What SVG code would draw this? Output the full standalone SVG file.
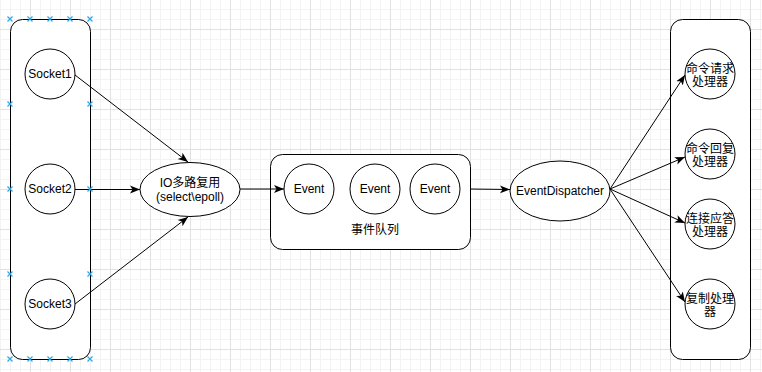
<svg xmlns="http://www.w3.org/2000/svg" width="762" height="372" viewBox="0 0 762 372">
<style>
.shape{fill:#ffffff;stroke:#000000;stroke-width:1}
.edge{fill:none;stroke:#000000;stroke-width:1}
.t{font-family:"Liberation Sans",Arial,"Noto Sans CJK SC",sans-serif;font-size:12px;fill:#000000;text-anchor:middle}
.h{stroke:#29a8e8;stroke-width:1.2;fill:none}
</style>
<defs>
<pattern id="minor" width="10" height="10" patternUnits="userSpaceOnUse"><path d="M0 9.5H10M0.5 0V10" stroke="#f3f3f3" stroke-width="1"/></pattern>
<pattern id="major" width="40" height="40" patternUnits="userSpaceOnUse"><path d="M0 29.5H40M30.5 0V40" stroke="#e2e2e2" stroke-width="1"/></pattern>
<marker id="arr" viewBox="0 0 10 10" refX="10" refY="5" markerWidth="10" markerHeight="10" markerUnits="userSpaceOnUse" orient="auto"><path d="M0,1 L10,5 L0,9 L2.5,5 z" fill="#000000"/></marker>
<path id="x" d="M-2.5,-2.5L2.5,2.5M-2.5,2.5L2.5,-2.5"/>
</defs>
<rect width="762" height="372" fill="#ffffff"/>
<rect width="762" height="372" fill="url(#minor)"/>
<rect width="762" height="372" fill="url(#major)"/>

<g id="left-container"><rect class="shape" x="10.5" y="19.5" width="80" height="340" rx="12" ry="12"/></g>
<g id="right-container"><rect class="shape" x="670.5" y="19.5" width="80" height="340" rx="12" ry="12"/></g>
<g id="event-queue"><rect class="shape" x="270.5" y="154.5" width="200" height="95" rx="12" ry="12"/><text class="t" x="375" y="234">事件队列</text></g>

<g id="connectors">
<path class="edge" d="M75 75L188 162" marker-end="url(#arr)"/>
<path class="edge" d="M75 189.5L140 189.5" marker-end="url(#arr)"/>
<path class="edge" d="M75 304L188 217" marker-end="url(#arr)"/>
<path class="edge" d="M240 189L284 189" marker-end="url(#arr)"/>
<path class="edge" d="M470 189L510 189.5" marker-end="url(#arr)"/>
<path class="edge" d="M610 189L685 75" marker-end="url(#arr)"/>
<path class="edge" d="M610 189L685 157" marker-end="url(#arr)"/>
<path class="edge" d="M610 189L685 223" marker-end="url(#arr)"/>
<path class="edge" d="M610 189L685 302" marker-end="url(#arr)"/>
</g>

<g id="socket1"><circle class="shape" cx="50" cy="74" r="25"/><text class="t" x="50" y="78">Socket1</text></g>
<g id="socket2"><circle class="shape" cx="50" cy="189" r="25"/><text class="t" x="50" y="193">Socket2</text></g>
<g id="socket3"><circle class="shape" cx="50" cy="304" r="25"/><text class="t" x="50" y="308">Socket3</text></g>

<g id="io-mux"><ellipse class="shape" cx="190" cy="189.5" rx="50" ry="27"/><text class="t" x="190" y="187">IO多路复用</text><text class="t" x="190" y="201">(select\epoll)</text></g>

<g id="event1"><circle class="shape" cx="309" cy="189" r="25"/><text class="t" x="309" y="193">Event</text></g>
<g id="event2"><circle class="shape" cx="375" cy="189" r="25"/><text class="t" x="375" y="193">Event</text></g>
<g id="event3"><circle class="shape" cx="435" cy="189" r="25"/><text class="t" x="435" y="193">Event</text></g>

<g id="dispatcher"><ellipse class="shape" cx="560" cy="191" rx="50" ry="30"/><text class="t" x="560" y="195">EventDispatcher</text></g>

<g id="handler1"><circle class="shape" cx="710" cy="74" r="25"/><text class="t" x="710" y="73">命令请求</text><text class="t" x="710" y="86">处理器</text></g>
<g id="handler2"><circle class="shape" cx="710" cy="154" r="25"/><text class="t" x="710" y="153">命令回复</text><text class="t" x="710" y="166">处理器</text></g>
<g id="handler3"><circle class="shape" cx="710" cy="224" r="25"/><text class="t" x="710" y="223">连接应答</text><text class="t" x="710" y="236">处理器</text></g>
<g id="handler4"><circle class="shape" cx="710" cy="304" r="25"/><text class="t" x="710" y="303">复制处理</text><text class="t" x="710" y="316">器</text></g>

<g id="handles" class="h">
<use href="#x" x="10" y="19"/><use href="#x" x="30" y="19"/><use href="#x" x="50" y="19"/><use href="#x" x="70" y="19"/><use href="#x" x="90" y="19"/>
<use href="#x" x="10" y="359"/><use href="#x" x="30" y="359"/><use href="#x" x="50" y="359"/><use href="#x" x="70" y="359"/><use href="#x" x="90" y="359"/>
<use href="#x" x="10" y="104"/><use href="#x" x="10" y="189"/><use href="#x" x="10" y="274"/>
<use href="#x" x="90" y="104"/><use href="#x" x="90" y="189"/><use href="#x" x="90" y="274"/>
</g>
</svg>
